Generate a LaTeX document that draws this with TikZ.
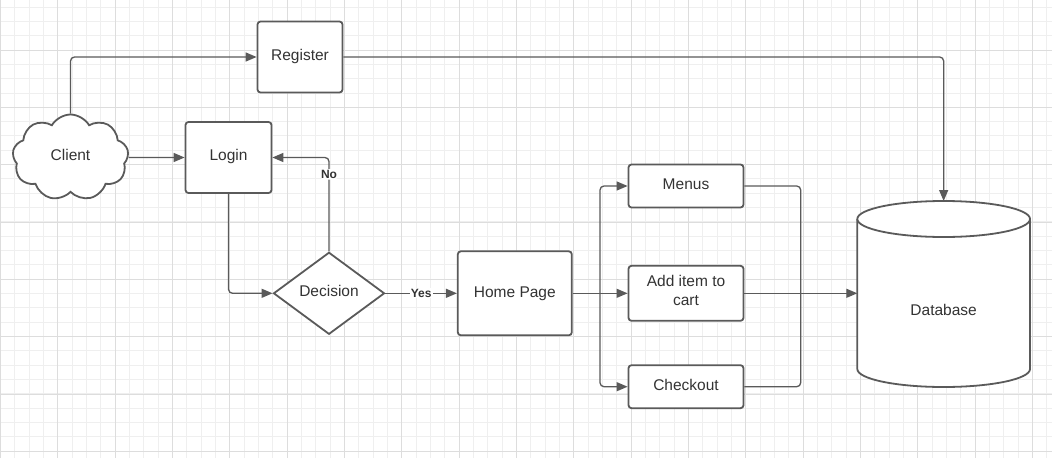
\documentclass[tikz,border=0pt]{standalone}
\usepackage{fontspec}
\setmainfont{Liberation Sans}
\usetikzlibrary{arrows.meta,shapes.geometric,shapes.symbols}
\definecolor{ln}{HTML}{5A5A5A}
\definecolor{tx}{HTML}{333333}
\definecolor{gmin}{HTML}{EFEFEF}
\definecolor{gmaj}{HTML}{DDDDDD}
\begin{document}
\begin{tikzpicture}[x=1pt,y=-1pt,
  txt/.style={text=tx, font=\fontsize{15.5pt}{19pt}\selectfont},
  oneline/.style={text height=11.3pt, text depth=4.5pt},
  box/.style={txt, draw=ln, line width=1.8pt, rounded corners=3pt, fill=white, inner sep=0pt},
  conn/.style={draw=ln, line width=1.3pt},
  arr/.style={conn, -{Triangle[length=11pt,width=9pt]}},
  lbl/.style={font=\bfseries\fontsize{12pt}{13pt}\selectfont, text=tx, fill=white, inner sep=1pt}]
\useasboundingbox (0,0) rectangle (1052,458);
\fill[white] (0,0) rectangle (1052,458);
\foreach \i in {0,...,73} \draw[gmin, line width=1pt] ({0.4+14.333*\i},0) -- ({0.4+14.333*\i},458);
\foreach \j in {0,...,31} \draw[gmin, line width=1pt] (0,{7+14.333*\j}) -- (1052,{7+14.333*\j});
\foreach \i in {0,...,18} \draw[gmaj, line width=1pt] ({0.4+57.333*\i},0) -- ({0.4+57.333*\i},458);
\foreach \j in {0,...,8} \draw[gmaj, line width=1pt] (0,{-7.33+57.333*\j}) -- (1052,{-7.33+57.333*\j});

% nodes
\node[box, oneline, minimum width=85, minimum height=71] (reg) at (300,57) {Register};
\node[box, oneline, minimum width=86, minimum height=71] (login) at (228.5,157.5) {Login};
\node[txt, oneline, cloud, cloud puffs=9, cloud puff arc=120, aspect=1.35, draw=ln, line width=1.8pt, fill=white, minimum width=116, minimum height=86, inner sep=0pt] (client) at (70.5,157.5) {Client};
\node[txt, oneline, diamond, draw=ln, line width=1.8pt, fill=white, aspect=1.35, minimum width=111, minimum height=82, inner sep=0pt] (dec) at (329,293.3) {Decision};
\node[box, text height=11.3pt, text depth=3.5pt, minimum width=114, minimum height=84] (home) at (514.8,293.3) {Home Page};
\node[box, oneline, minimum width=115, minimum height=43] (menus) at (686,186) {Menus};
\node[box, text depth=6pt, minimum width=115, minimum height=55, align=center] (add) at (686,293.3) {Add item to\\cart};
\node[box, oneline, minimum width=115, minimum height=43] (chk) at (686,386.7) {Checkout};

% database cylinder
\draw[ln, line width=1.8pt, fill=white] (857.3,219) -- (857.3,369) arc[start angle=180,end angle=360,x radius=86.35pt,y radius=18pt] -- (1030,219);
\draw[ln, line width=1.8pt, fill=white] (943.65,219) ellipse [x radius=86.35pt, y radius=18pt];
\node[txt] (db) at (943.65,310) {Database};
\coordinate (dbtop) at (943.65,201);
\coordinate (dbleft) at (857.3,293.3);

% connectors
\draw[arr, rounded corners=4pt] (client.north) |- (reg.west);
\draw[arr] (client.east) -- (login.west);
\draw[arr, rounded corners=4pt] (reg.east) -| (dbtop);
\draw[arr, rounded corners=4pt] (login.south) |- (dec.west);
\draw[arr, rounded corners=4pt] (dec.north) |- node[lbl, pos=0.41]{No} (login.east);
\draw[arr] (dec.east) -- node[lbl]{Yes} (home.west);
\coordinate (split) at (600,293.3);
\coordinate (merge) at (800.7,293.3);
\draw[conn] (home.east) -- (split);
\draw[arr, rounded corners=4pt] (split) |- (menus.west);
\draw[arr] (split) -- (add.west);
\draw[arr, rounded corners=4pt] (split) |- (chk.west);
\draw[conn, rounded corners=4pt] (menus.east) -| (merge);
\draw[conn, rounded corners=4pt] (chk.east) -| (merge);
\draw[arr] (add.east) -- (dbleft);
\end{tikzpicture}
\end{document}
